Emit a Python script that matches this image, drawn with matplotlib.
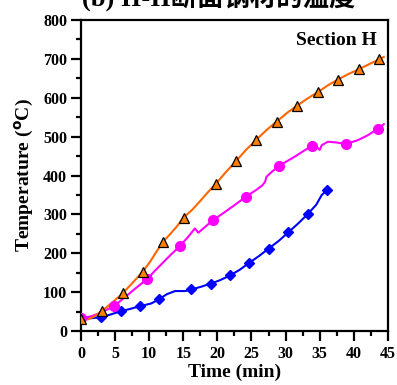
import matplotlib
matplotlib.use('Agg')
import matplotlib.pyplot as plt
from matplotlib.ticker import MultipleLocator

#====================
# Data
#====================
# orange (triangles)
t_orange = [0, 1, 2, 3, 4.5, 6.1, 7.5, 9.07, 10.2, 10.9, 12.04, 13, 14, 15.06, 16.3, 17.4,
            18.5, 19.74, 21.2, 22.77, 24.2, 25.7, 27.2, 28.7, 30.2, 31.7, 33.2, 34.76, 36.2,
            37.7, 39.2, 40.7, 42.2, 43.74, 44.4]
T_orange = [32, 30, 38, 51, 72, 97, 123, 153, 180, 200, 230, 248, 268, 292, 312, 333,
            355, 378, 408, 438, 466, 492, 517, 539, 561, 580, 598, 615, 632,
            647, 661, 673, 686, 699, 705]
tm_orange = [0, 3.07, 6.09, 9.07, 12.04, 15.06, 19.74, 22.77, 25.7, 28.7, 31.7, 34.76, 37.7, 40.7, 43.74]
Tm_orange = [32, 51, 97, 153, 230, 292, 378, 438, 492, 539, 580, 615, 647, 673, 699]

# magenta (circles)
t_magenta = [0, 1.5, 3, 4.82, 6.5, 8, 9.65, 11, 12.8, 14.5, 15.6, 16.7, 17.2, 18.2, 19.4, 21,
             22.6, 24.2, 25.7, 26.6, 27, 27.2, 28, 29.05, 30.2, 31.3, 32.8, 33.9, 34.6, 35,
             35.3, 36.2, 37.5, 38.8, 40.6, 42, 43.5, 44.4]
T_magenta = [33, 38, 48, 64, 88, 110, 133, 158, 190, 219, 240, 264, 253, 268, 286, 305,
             325, 346, 363, 375, 384, 397, 410, 425, 437, 448, 465, 477, 473, 466,
             478, 487, 485, 481, 491, 503, 520, 532]
tm_magenta = [0, 4.82, 9.65, 14.5, 19.4, 24.2, 29.05, 33.9, 38.8, 43.5]
Tm_magenta = [33, 64, 133, 219, 286, 346, 425, 477, 481, 520]

# blue (diamonds)
t_blue = [0, 1.5, 2.97, 4.4, 5.8, 7.2, 8.6, 10.3, 11.45, 12.6, 13.8, 15.3, 16.2, 17.6, 19.0,
          20.4, 21.85, 23.3, 24.7, 26.1, 27.5, 29, 30.4, 31.8, 33.25, 34.5, 35.3, 36.1]
T_blue = [33, 33, 36, 43, 51, 57, 64, 71, 82, 95, 103, 103, 107, 114, 122,
          131, 143, 158, 176, 193, 212, 232, 254, 276, 301, 325, 350, 363]
tm_blue = [0, 2.97, 5.8, 8.6, 11.45, 16.2, 19.0, 21.85, 24.7, 27.5, 30.4, 33.25, 36.1]
Tm_blue = [33, 36, 51, 64, 82, 107, 122, 143, 176, 212, 254, 301, 363]

#====================
# Figure
#====================
plt.rcParams['font.family'] = ['Liberation Serif', 'Noto Sans CJK SC']
plt.rcParams['font.weight'] = 'bold'

fig = plt.figure(figsize=(3.97, 3.85), dpi=100)
ax = fig.add_axes([0.204, 0.140, 0.773, 0.808])

ax.plot(t_blue, T_blue, color='#0000FF', lw=1.5, zorder=2)
ax.plot(tm_blue, Tm_blue, ls='none', marker='D', ms=5, color='#0000FF', zorder=3)
ax.plot(t_magenta, T_magenta, color='#FF00FF', lw=1.5, zorder=2)
ax.plot(tm_magenta, Tm_magenta, ls='none', marker='o', ms=7, color='#FF00FF', zorder=3)
ax.plot(t_orange, T_orange, color='#FF6600', lw=1.5, zorder=2)
ax.plot(tm_orange, Tm_orange, ls='none', marker='^', ms=7, mfc='#FF7F00', mec='black',
        mew=0.9, zorder=4)

ax.set_xlim(0, 45)
ax.set_ylim(0, 800)
ax.xaxis.set_major_locator(MultipleLocator(5))
ax.xaxis.set_minor_locator(MultipleLocator(2.5))
ax.yaxis.set_major_locator(MultipleLocator(100))
ax.yaxis.set_minor_locator(MultipleLocator(50))
ax.tick_params(which='major', length=7, width=1.6, direction='out', labelsize=11.5, pad=3)
ax.tick_params(which='minor', length=3.5, width=1.6, direction='out')
ax.tick_params(axis='x', which='major', pad=4)
for s in ax.spines.values():
    s.set_linewidth(1.6)
for lab in ax.get_xticklabels() + ax.get_yticklabels():
    lab.set_fontweight('bold')

ax.set_xlabel('Time (min)', fontsize=14, fontweight='bold', labelpad=1)
ax.set_ylabel('Temperature ($^{\\mathrm{o}}$C)', fontsize=14, fontweight='bold', labelpad=5)

ax.text(0.965, 0.935, 'Section H', transform=ax.transAxes, ha='right', va='center',
        fontsize=14, fontweight='bold')

# title cut off at the top of the picture
fig.text(0.55, 1 - 12 / 385, '(b) II-II断面钢材的温度', ha='center', va='bottom',
         fontsize=19, fontweight='bold', family=['Liberation Serif', 'Noto Sans CJK SC'])

fig.savefig('out.png', dpi=100)
